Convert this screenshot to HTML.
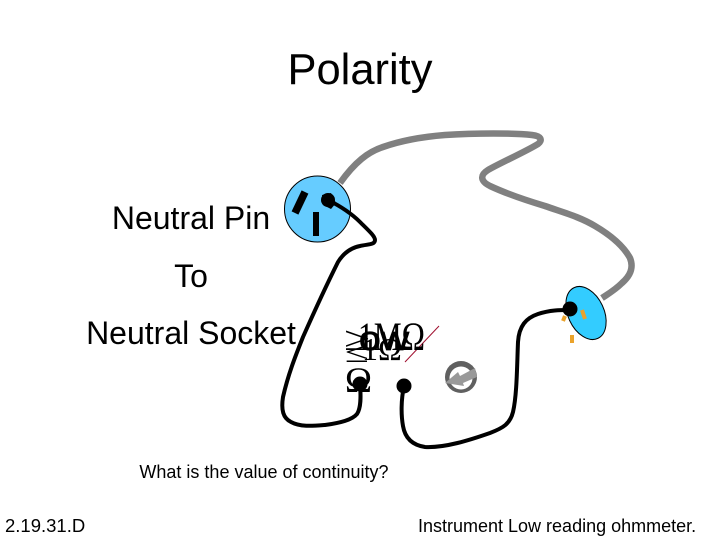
<!DOCTYPE html>
<html>
<head>
<meta charset="utf-8">
<style>
html,body{margin:0;padding:0;background:#fff;width:720px;height:540px;overflow:hidden}
svg{display:block}
text{font-family:"Liberation Sans",sans-serif;fill:#000}
.s{font-family:"Liberation Serif",serif}
</style>
</head>
<body>
<svg width="720" height="540" viewBox="0 0 720 540" xmlns="http://www.w3.org/2000/svg">
<text x="360" y="84" font-size="43.5" text-anchor="middle">Polarity</text>
<text x="191" y="229" font-size="32" text-anchor="middle">Neutral Pin</text>
<text x="191" y="287" font-size="32" text-anchor="middle">To</text>
<text x="191" y="344" font-size="32" text-anchor="middle">Neutral Socket</text>
<text x="264" y="478" font-size="18" text-anchor="middle">What is the value of continuity?</text>
<text x="5" y="532" font-size="18.5">2.19.31.D</text>
<text x="418" y="532" font-size="18">Instrument Low reading ohmmeter.</text>

<path d="M340 183C355 162 368 152 383 147C400 141 420 137 445 135C475 133 515 133 532 135C541 136 543 140 538 144C525 152 500 163 488 170C480 175 480 181 490 186C505 193 525 200 545 206C565 213 580 217 595 226C612 236 624 247 630 258C634 268 630 276 622 283C615 290 608 294 602 298" fill="none" stroke="#808080" stroke-width="6.5"/>

<circle cx="317.5" cy="209" r="33" fill="#66ccff" stroke="#000" stroke-width="1"/>
<path d="M305 192L295 213" stroke="#000" stroke-width="7.5" fill="none"/>
<path d="M316 212V236" stroke="#000" stroke-width="6" fill="none"/>

<ellipse cx="586" cy="313" rx="18" ry="28" transform="rotate(-25 586 313)" fill="#33ccff" stroke="#000" stroke-width="1"/>
<path d="M582 310L585 319M565 316L563 321M572 335V343" stroke="#eba32b" stroke-width="4" fill="none"/>

<path d="M328 200C342 207 352 214 360 222C368 230 375 236 375 240C375 245 368 244 360 246C350 248 343 254 338 262C328 282 315 310 303 337C295 357 288 375 283 397C281 410 283 418 291 422C300 427 312 426 325 425C340 423 352 420 357 414C361 408 361 397 360 384" fill="none" stroke="#000" stroke-width="4"/>
<path d="M404 386C401 400 401 415 403 426C405 438 412 445 425 447C445 448 470 440 490 433C503 428 510 424 513 412C517 395 517 365 518 342C519 326 526 318 538 314C550 310 560 310 570 310" fill="none" stroke="#000" stroke-width="4"/>

<circle cx="328" cy="200" r="7" fill="#000"/>
<path d="M322 195L331 193L336 203L331 209L323 205Z" fill="#000"/>
<circle cx="570" cy="309" r="7.5" fill="#000"/>

<path d="M405 362L439 326" stroke="#a01030" stroke-width="1" fill="none"/>
<text class="s" x="344" y="350" font-size="34" textLength="26" lengthAdjust="spacingAndGlyphs">≥</text>
<text class="s" x="345" y="362" font-size="30" textLength="24" lengthAdjust="spacingAndGlyphs">≤</text>
<text class="s" x="362" y="360" font-size="32">1Ω</text>
<text class="s" x="358" y="350" font-size="40" textLength="67" lengthAdjust="spacingAndGlyphs">1MΩ</text>
<text x="359" y="350" font-size="34" textLength="50" lengthAdjust="spacingAndGlyphs" stroke="#000" stroke-width="0.8">ow</text>
<text class="s" x="345" y="392" font-size="36" textLength="27" lengthAdjust="spacingAndGlyphs">Ω</text>
<circle cx="360" cy="384" r="7.5" fill="#000"/>
<circle cx="404" cy="386" r="7.5" fill="#000"/>

<circle cx="461" cy="377" r="16" fill="#606060"/>
<circle cx="461" cy="378" r="11.5" fill="#fff"/>
<path d="M445 383L458 372L460 376L475 368L477 377L463 383L464 386Z" fill="#999"/>
</svg>
</body>
</html>
